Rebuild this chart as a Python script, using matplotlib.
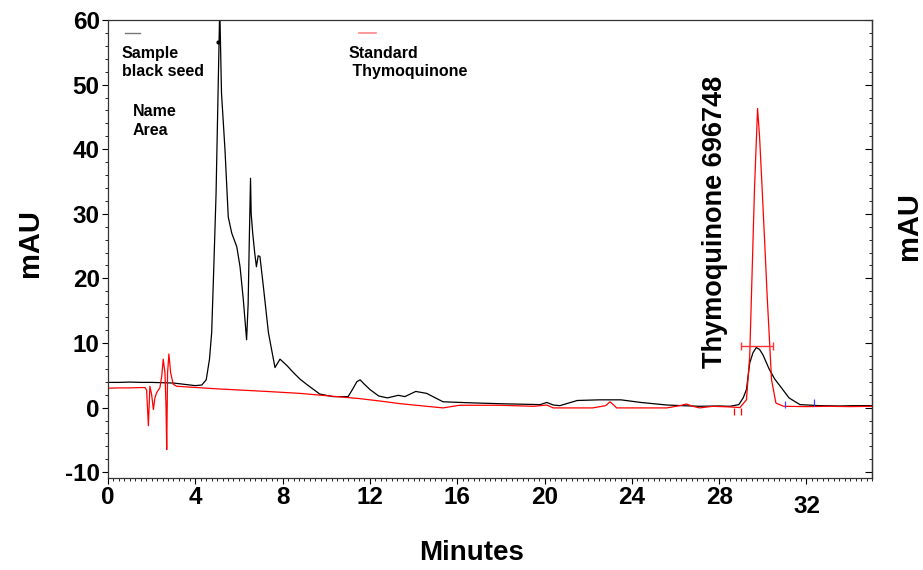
import numpy as np
import matplotlib
matplotlib.use("Agg")
import matplotlib.pyplot as plt
from matplotlib.ticker import MultipleLocator

plt.rcParams['font.family'] = ['Liberation Sans', 'DejaVu Sans']
plt.rcParams['axes.unicode_minus'] = False

# sample (black seed) trace
sample_t = [0, 0.5, 1.0, 1.5, 2.0, 2.5, 3.0, 3.5, 4.0, 4.3, 4.5, 4.65, 4.75, 4.85, 4.95,
            5.05, 5.12, 5.2, 5.36, 5.51, 5.67, 5.9, 6.05, 6.2, 6.35, 6.42, 6.48, 6.53, 6.56,
            6.63, 6.72, 6.8, 6.88, 6.96, 7.1, 7.35, 7.65, 7.88, 8.2, 8.5, 8.8, 9.1, 9.7, 10.3,
            11.0, 11.2, 11.4, 11.55, 11.75, 12.0, 12.4, 12.8, 13.3, 13.6, 14.1, 14.6, 15.0,
            15.35, 16.5, 17.95, 19.8, 20.1, 20.4, 20.7, 21.5, 22.5, 23.5, 24.4, 25.6, 26.3,
            27.1, 28.0, 28.5, 28.9, 29.1, 29.25, 29.4, 29.55, 29.7, 29.85, 30.0, 30.3, 30.55,
            30.8, 31.2, 31.7, 32.6, 33.5, 34.2, 35.0]
sample_y = [3.9, 3.9, 3.95, 3.9, 3.9, 3.85, 3.8, 3.6, 3.4, 3.5, 4.3, 7.5, 11.6, 22, 33,
            50, 62, 48.7, 39.9, 29.5, 27, 24.9, 21.8, 16.7, 10.5, 16, 27, 35.5, 30,
            27, 24, 21.8, 23.5, 23.4, 19.3, 11.6, 6.2, 7.5, 6.5, 5.4, 4.4, 3.6, 2.1, 1.7,
            1.7, 2.8, 4.0, 4.3, 3.6, 2.8, 1.8, 1.5, 1.9, 1.7, 2.5, 2.2, 1.5,
            0.9, 0.75, 0.6, 0.46, 0.8, 0.4, 0.3, 1.1, 1.2, 1.2, 0.8, 0.4, 0.3,
            0.2, 0.25, 0.2, 0.46, 1.5, 2.8, 6.9, 8.5, 9.3, 9.0, 8.2, 5.9, 4.4,
            3.3, 1.5, 0.46, 0.3, 0.25, 0.3, 0.3]

# standard thymoquinone trace
std_t = [0, 0.5, 1.0, 1.5, 1.7, 1.77, 1.85, 1.92, 2.0, 2.08, 2.15, 2.23, 2.38, 2.46, 2.53,
         2.61, 2.66, 2.69, 2.73, 2.79, 2.87, 2.99, 3.15, 5.0, 7.27, 8.8, 10.3, 11.5, 12.5,
         13.4, 14.6, 15.35, 16.1, 17.95, 19.5, 20.1, 20.4, 22.2, 22.8, 23.0, 23.2, 23.3,
         25.6, 26.2, 26.5, 26.8, 27.1, 27.7, 28.5, 28.95, 29.25, 29.4, 29.5, 29.62, 29.76,
         29.85, 29.95, 30.08, 30.2, 30.4, 30.6, 30.95, 32.0, 33.0, 34.0, 35.0]
std_y = [3.0, 3.05, 3.05, 3.1, 3.1, 2.7, -2.8, 3.3, 2.0, -0.3, 1.5, 2.3, 3.1, 4.8, 7.5,
         5.4, 0, -6.5, 5.4, 8.3, 5.4, 3.6, 3.3, 2.9, 2.5, 2.2, 1.75, 1.4, 1.0,
         0.6, 0.2, -0.05, 0.36, 0.36, 0.2, 0.4, -0.05, -0.05, 0.3, 0.9, 0.3, -0.05,
         -0.05, 0.3, 0.55, 0.2, -0.05, 0.2, 0.1, 0.0, 1.2, 8, 19.8, 34, 46.3,
         42, 35.2, 26, 17.2, 4.3, 0.7, 0.2, 0.15, 0.2, 0.15, 0.2]

# peak width bar and integration marks
peak_rt = 29.72
peak_halfwidth = 0.73
peak_bar_y = 9.6
red_marks = [28.7, 29.0]
blue_marks = [31.0, 32.35]
peak_label = "Thymoquinone 696748"

fig = plt.figure(figsize=(9.23, 5.70), dpi=100)
ax = fig.add_axes([0.117, 0.1614, 0.8277, 0.8035])

ax.plot(sample_t, sample_y, color='black', lw=0.9)
ax.plot(std_t, std_y, color='red', lw=0.9)
ax.plot([5.05], [56.6], 'o', color='black', ms=2)

ax.errorbar([peak_rt], [peak_bar_y], xerr=[peak_halfwidth], color='#ff3333',
            lw=1, capsize=3, capthick=1)
ax.vlines(red_marks, -1.2, 0.0, color='red', lw=0.9)
ax.vlines(blue_marks, [0.0, 0.2], [1.0, 1.3], color='#4444ff', lw=0.9)

ax.text(27.8, 28.8, peak_label, rotation=90, ha='center', va='center',
        fontsize=19.5, fontweight='bold')

# legend-ish labels
ax.plot([0.78, 1.47], [58.0, 58.0], color='#777777', lw=1)
ax.plot([11.5, 12.3], [58.0, 58.0], color='#ff8888', lw=1.2)
ax.text(0.63, 55.9, "Sample\nblack seed", ha='left', va='top', fontsize=11.5,
        fontweight='bold', linespacing=1.2)
ax.text(11.0, 55.9, "Standard\n Thymoquinone", ha='left', va='top', fontsize=11.5,
        fontweight='bold', linespacing=1.2)
ax.text(1.15, 47.0, "Name\nArea", ha='left', va='top', fontsize=11.5,
        fontweight='bold', linespacing=1.3)

ax.set_xlim(0, 35)
ax.set_ylim(-10.9, 60)
ax.set_xticks(np.arange(0, 33, 4))
ax.set_yticks(np.arange(-10, 61, 10))
ax.xaxis.set_minor_locator(MultipleLocator(0.25))
ax.yaxis.set_minor_locator(MultipleLocator(2))

for lab in ax.get_xticklabels() + ax.get_yticklabels():
    lab.set_fontweight('bold')
    lab.set_fontsize(17.5)

ax.tick_params(axis='x', which='major', direction='out', length=4, pad=2)
ax.tick_params(axis='x', which='minor', direction='out', length=2.5)
ax.tick_params(axis='y', which='major', direction='out', length=4, pad=2)
ax.tick_params(axis='y', which='minor', direction='out', length=2)
for s in ax.spines.values():
    s.set_linewidth(0.9)
    s.set_color('#333333')

# right axis: ticks pointing inward, no labels
sec = ax.secondary_yaxis('right')
sec.set_yticks(np.arange(-10, 61, 10))
sec.yaxis.set_minor_locator(MultipleLocator(2))
sec.tick_params(which='major', direction='in', length=5, labelright=False)
sec.tick_params(which='minor', direction='in', length=2.5)
sec.spines['right'].set_linewidth(0.9)
sec.spines['right'].set_color('#333333')

# "32" sits a little lower in the original
ax.get_xticklabels()[-1].set_y(-0.018)

fig.text(0.0325, 0.574, "mAU", rotation=90, ha='center', va='center',
         fontsize=21, fontweight='bold')
fig.text(0.985, 0.604, "mAU", rotation=90, ha='center', va='center',
         fontsize=21, fontweight='bold')
fig.text(0.511, 0.030, "Minutes", ha='center', va='center', fontsize=20, fontweight='bold')

fig.savefig('out.png', dpi=100)
